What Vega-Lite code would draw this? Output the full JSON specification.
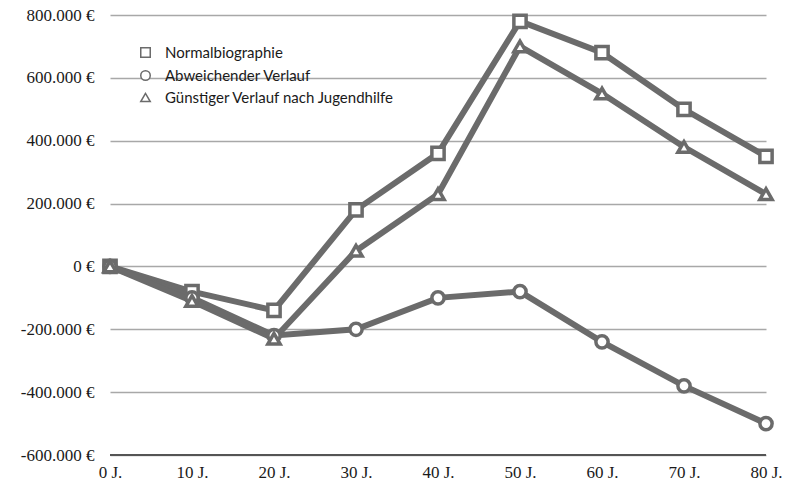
{
  "$schema": "https://vega.github.io/schema/vega-lite/v6.json",
  "width": 656,
  "height": 440,
  "autosize": {"type": "none"},
  "padding": {"left": 110, "top": 15, "right": 21, "bottom": 35},
  "background": "white",
  "config": {
    "view": {"stroke": null}
  },
  "data": {
    "values": [
      {"alter": "0 J.", "serie": "Normalbiographie", "wert": 0},
      {"alter": "10 J.", "serie": "Normalbiographie", "wert": -80000},
      {"alter": "20 J.", "serie": "Normalbiographie", "wert": -140000},
      {"alter": "30 J.", "serie": "Normalbiographie", "wert": 180000},
      {"alter": "40 J.", "serie": "Normalbiographie", "wert": 360000},
      {"alter": "50 J.", "serie": "Normalbiographie", "wert": 780000},
      {"alter": "60 J.", "serie": "Normalbiographie", "wert": 680000},
      {"alter": "70 J.", "serie": "Normalbiographie", "wert": 500000},
      {"alter": "80 J.", "serie": "Normalbiographie", "wert": 350000},
      {"alter": "0 J.", "serie": "Abweichender Verlauf", "wert": 0},
      {"alter": "10 J.", "serie": "Abweichender Verlauf", "wert": -100000},
      {"alter": "20 J.", "serie": "Abweichender Verlauf", "wert": -220000},
      {"alter": "30 J.", "serie": "Abweichender Verlauf", "wert": -200000},
      {"alter": "40 J.", "serie": "Abweichender Verlauf", "wert": -100000},
      {"alter": "50 J.", "serie": "Abweichender Verlauf", "wert": -80000},
      {"alter": "60 J.", "serie": "Abweichender Verlauf", "wert": -240000},
      {"alter": "70 J.", "serie": "Abweichender Verlauf", "wert": -380000},
      {"alter": "80 J.", "serie": "Abweichender Verlauf", "wert": -500000},
      {"alter": "0 J.", "serie": "Günstiger Verlauf nach Jugendhilfe", "wert": 0},
      {"alter": "10 J.", "serie": "Günstiger Verlauf nach Jugendhilfe", "wert": -110000},
      {"alter": "20 J.", "serie": "Günstiger Verlauf nach Jugendhilfe", "wert": -230000},
      {"alter": "30 J.", "serie": "Günstiger Verlauf nach Jugendhilfe", "wert": 50000},
      {"alter": "40 J.", "serie": "Günstiger Verlauf nach Jugendhilfe", "wert": 230000},
      {"alter": "50 J.", "serie": "Günstiger Verlauf nach Jugendhilfe", "wert": 700000},
      {"alter": "60 J.", "serie": "Günstiger Verlauf nach Jugendhilfe", "wert": 550000},
      {"alter": "70 J.", "serie": "Günstiger Verlauf nach Jugendhilfe", "wert": 380000},
      {"alter": "80 J.", "serie": "Günstiger Verlauf nach Jugendhilfe", "wert": 230000}
    ]
  },
  "encoding": {
    "x": {
      "field": "alter", "type": "ordinal", "sort": null,
      "scale": {"padding": 0},
      "axis": {"title": null, "labelAngle": 0, "ticks": false, "domain": false, "labelPadding": 9, "grid": false,
        "labelFont": "Liberation Serif", "labelFontSize": 17, "labelColor": "#1a1a1a",
        "encode": {"labels": {"update": {"font": {"value": "Liberation Serif"}, "fontSize": {"value": 17}}}}}
    },
    "y": {
      "field": "wert", "type": "quantitative",
      "scale": {"domain": [-600000, 800000], "nice": false, "zero": false},
      "axis": {
        "title": null, "values": [-600000, -400000, -200000, 0, 200000, 400000, 600000, 800000],
        "labelExpr": "replace(replace(format(datum.value, ',d'), /,/g, '.'), /\u2212/g, '-') + ' €'",
        "ticks": false, "domain": false, "labelPadding": 16,
        "labelFont": "Liberation Serif", "labelFontSize": 17, "labelColor": "#1a1a1a",
        "gridColor": "#a8a8a8", "gridWidth": 1.5,
        "encode": {"labels": {"update": {"font": {"value": "Liberation Serif"}, "fontSize": {"value": 17}}}}
      }
    }
  },
  "layer": [
    {
      "mark": {"type": "rule", "color": "#555555", "strokeWidth": 2},
      "data": {"values": [{"y": -600000}]},
      "encoding": {"y": {"field": "y", "type": "quantitative"}, "x": null}
    },
    {
      "mark": {"type": "line", "color": "#6b6b6b", "strokeWidth": 6},
      "encoding": {"detail": {"field": "serie"}}
    },
    {
      "mark": {"type": "point", "filled": true, "fill": "white", "stroke": "#6b6b6b", "strokeWidth": 3.5, "size": 150, "opacity": 1},
      "encoding": {
        "shape": {
          "field": "serie", "type": "nominal",
          "scale": {
            "domain": ["Normalbiographie", "Abweichender Verlauf", "Günstiger Verlauf nach Jugendhilfe"],
            "range": ["square", "circle", "triangle-up"]
          },
          "legend": {
            "title": null, "orient": "none", "legendX": 28, "legendY": 30,
            "labelFont": "Lato", "labelFontSize": 15, "labelColor": "#1a1a1a", "labelLimit": 400,
            "symbolSize": 90, "rowPadding": 6, "labelOffset": 12,
            "encode": {
              "labels": {"update": {"font": {"value": "Lato"}, "fontSize": {"value": 15}}},
              "symbols": {
                "update": {
                  "stroke": {"value": "#6b6b6b"},
                  "fill": {"value": "white"},
                  "strokeWidth": {"value": 2.5},
                  "opacity": {"value": 1}
                }
              }
            }
          }
        }
      }
    }
  ]
}
